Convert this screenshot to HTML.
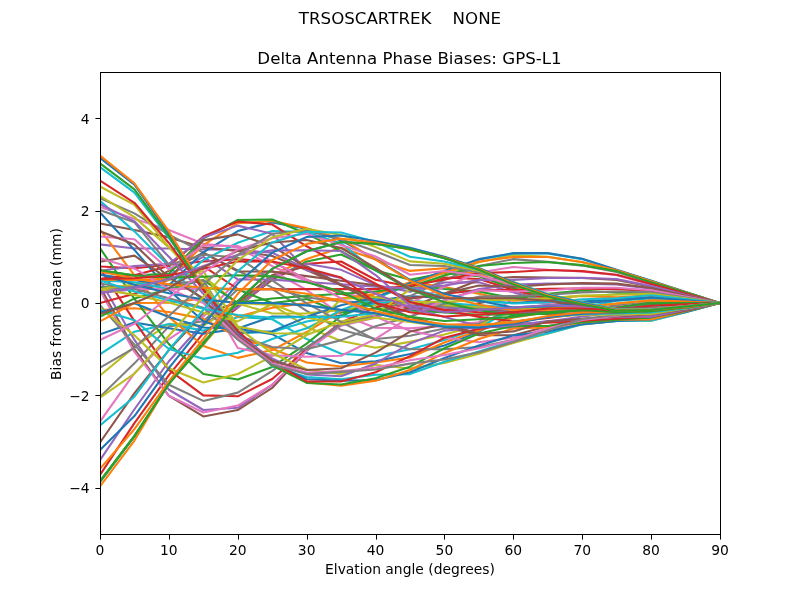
<!DOCTYPE html>
<html><head><meta charset="utf-8"><title>Delta Antenna Phase Biases</title>
<style>
html,body{margin:0;padding:0;background:#fff;}
body{width:800px;height:600px;overflow:hidden;}
svg{display:block;}
text{font-family:"DejaVu Sans","Liberation Sans",sans-serif;fill:#000;}
.l{fill:none;stroke-width:2.0833;stroke-linejoin:round;stroke-linecap:butt;}
</style></head><body>
<svg width="800" height="600" viewBox="0 0 800 600">
<rect width="800" height="600" fill="#fff"/>
<defs><clipPath id="c"><rect x="100" y="72" width="620" height="462"/></clipPath></defs>
<g clip-path="url(#c)">
<polyline class="l" stroke="#1f77b4" points="100.00,481.80 134.44,436.49 168.89,383.93 203.33,344.09 237.78,301.16 272.22,268.82 306.67,251.26 341.11,242.03 375.56,243.91 410.00,249.05 444.44,258.23 478.89,269.78 513.33,284.52 547.78,296.52 582.22,304.40 616.67,310.83 651.11,309.94 685.56,306.48 720.00,303.00"/>
<polyline class="l" stroke="#ff7f0e" points="100.00,486.40 134.44,440.57 168.89,383.08 203.33,344.54 237.78,304.93 272.22,275.32 306.67,259.02 341.11,247.65 375.56,259.48 410.00,270.89 444.44,268.33 478.89,274.33 513.33,286.36 547.78,297.44 582.22,304.87 616.67,311.29 651.11,310.21 685.56,306.69 720.00,303.00"/>
<polyline class="l" stroke="#2ca02c" points="100.00,480.94 134.44,435.53 168.89,383.56 203.33,342.21 237.78,305.36 272.22,279.86 306.67,261.43 341.11,254.56 375.56,270.19 410.00,279.86 444.44,273.04 478.89,276.24 513.33,288.20 547.78,298.37 582.22,305.33 616.67,311.75 651.11,309.95 685.56,306.47 720.00,303.00"/>
<polyline class="l" stroke="#d62728" points="100.00,474.81 134.44,423.14 168.89,375.04 203.33,333.10 237.78,307.54 272.22,279.03 306.67,263.69 341.11,261.49 375.56,279.79 410.00,286.72 444.44,277.57 478.89,278.94 513.33,290.04 547.78,299.30 582.22,305.79 616.67,312.21 651.11,309.83 685.56,306.27 720.00,303.00"/>
<polyline class="l" stroke="#9467bd" points="100.00,460.09 134.44,409.25 168.89,361.24 203.33,322.93 237.78,307.52 272.22,277.65 306.67,263.72 341.11,269.83 375.56,284.90 410.00,291.64 444.44,282.47 478.89,282.36 513.33,292.37 547.78,300.67 582.22,306.04 616.67,312.18 651.11,308.58 685.56,305.78 720.00,303.00"/>
<polyline class="l" stroke="#8c564b" points="100.00,442.51 134.44,393.05 168.89,350.08 203.33,313.37 237.78,302.64 272.22,275.25 306.67,266.27 341.11,284.59 375.56,298.52 410.00,307.67 444.44,312.04 478.89,303.13 513.33,296.35 547.78,301.37 582.22,306.87 616.67,310.23 651.11,308.54 685.56,305.72 720.00,303.00"/>
<polyline class="l" stroke="#e377c2" points="100.00,421.67 134.44,373.13 168.89,339.09 203.33,316.69 237.78,280.23 272.22,270.88 306.67,289.98 341.11,314.84 375.56,327.76 410.00,328.33 444.44,326.10 478.89,322.16 513.33,298.62 547.78,303.85 582.22,307.60 616.67,310.29 651.11,307.98 685.56,305.38 720.00,303.00"/>
<polyline class="l" stroke="#7f7f7f" points="100.00,396.83 134.44,363.36 168.89,326.36 203.33,321.24 237.78,289.21 272.22,289.08 306.67,310.81 341.11,329.81 375.56,339.06 410.00,335.83 444.44,328.51 478.89,323.77 513.33,308.58 547.78,305.42 582.22,307.65 616.67,312.15 651.11,306.75 685.56,304.84 720.00,303.00"/>
<polyline class="l" stroke="#bcbd22" points="100.00,375.51 134.44,346.87 168.89,323.90 203.33,325.90 237.78,303.10 272.22,304.89 306.67,326.95 341.11,340.93 375.56,347.80 410.00,341.85 444.44,334.41 478.89,325.15 513.33,310.91 547.78,307.60 582.22,309.00 616.67,310.35 651.11,307.18 685.56,304.64 720.00,303.00"/>
<polyline class="l" stroke="#17becf" points="100.00,354.27 134.44,331.73 168.89,323.95 203.33,330.63 237.78,316.93 272.22,319.23 306.67,339.05 341.11,353.79 375.56,356.12 410.00,349.20 444.44,340.00 478.89,328.34 513.33,307.83 547.78,309.87 582.22,310.64 616.67,310.43 651.11,306.41 685.56,304.21 720.00,303.00"/>
<polyline class="l" stroke="#1f77b4" points="100.00,334.34 134.44,322.44 168.89,328.27 203.33,333.82 237.78,328.62 272.22,334.20 306.67,353.06 341.11,363.20 375.56,361.38 410.00,354.01 444.44,345.52 478.89,331.64 513.33,315.01 547.78,310.96 582.22,311.32 616.67,312.16 651.11,304.46 685.56,303.68 720.00,303.00"/>
<polyline class="l" stroke="#ff7f0e" points="100.00,309.93 134.44,308.24 168.89,312.01 203.33,318.88 237.78,337.17 272.22,348.82 306.67,362.41 341.11,366.49 375.56,362.57 410.00,357.45 444.44,342.52 478.89,330.56 513.33,317.49 547.78,312.37 582.22,311.68 616.67,310.16 651.11,305.26 685.56,303.31 720.00,303.00"/>
<polyline class="l" stroke="#2ca02c" points="100.00,286.85 134.44,288.77 168.89,288.53 203.33,288.58 237.78,289.46 272.22,302.99 306.67,299.03 341.11,312.51 375.56,308.19 410.00,310.38 444.44,312.52 478.89,314.68 513.33,314.57 547.78,313.18 582.22,312.89 616.67,309.52 651.11,304.42 685.56,302.90 720.00,303.00"/>
<polyline class="l" stroke="#d62728" points="100.00,266.49 134.44,268.33 168.89,264.70 203.33,261.47 237.78,259.15 272.22,261.64 306.67,279.73 341.11,293.67 375.56,302.83 410.00,307.48 444.44,309.85 478.89,312.19 513.33,313.16 547.78,313.62 582.22,314.50 616.67,309.90 651.11,302.15 685.56,302.52 720.00,303.00"/>
<polyline class="l" stroke="#9467bd" points="100.00,244.34 134.44,248.45 168.89,248.49 203.33,249.42 237.78,249.82 272.22,252.70 306.67,268.72 341.11,284.54 375.56,298.37 410.00,305.29 444.44,307.62 478.89,309.94 513.33,312.23 547.78,312.27 582.22,312.71 616.67,308.60 651.11,303.07 685.56,302.05 720.00,303.00"/>
<polyline class="l" stroke="#8c564b" points="100.00,223.53 134.44,230.03 168.89,237.39 203.33,247.44 237.78,250.87 272.22,255.96 306.67,270.10 341.11,285.32 375.56,297.46 410.00,303.04 444.44,305.35 478.89,308.54 513.33,311.30 547.78,311.84 582.22,312.62 616.67,307.16 651.11,302.33 685.56,301.76 720.00,303.00"/>
<polyline class="l" stroke="#e377c2" points="100.00,206.92 134.44,218.89 168.89,230.08 203.33,243.83 237.78,247.35 272.22,266.19 306.67,281.26 341.11,292.30 375.56,300.67 410.00,305.28 444.44,306.68 478.89,307.64 513.33,309.92 547.78,310.00 582.22,314.43 616.67,305.35 651.11,300.27 685.56,301.60 720.00,303.00"/>
<polyline class="l" stroke="#7f7f7f" points="100.00,198.11 134.44,213.41 168.89,234.60 203.33,252.70 237.78,270.53 272.22,287.65 306.67,297.54 341.11,301.40 375.56,303.03 410.00,305.30 444.44,306.69 478.89,307.62 513.33,309.90 547.78,309.81 582.22,310.21 616.67,304.93 651.11,300.91 685.56,301.17 720.00,303.00"/>
<polyline class="l" stroke="#bcbd22" points="100.00,195.81 134.44,217.13 168.89,247.53 203.33,276.56 237.78,303.48 272.22,313.44 306.67,313.34 341.11,309.97 375.56,305.28 410.00,303.03 444.44,305.30 478.89,306.72 513.33,308.55 547.78,307.65 582.22,307.92 616.67,303.43 651.11,300.41 685.56,300.93 720.00,303.00"/>
<polyline class="l" stroke="#17becf" points="100.00,200.89 134.44,231.38 168.89,266.05 203.33,301.30 237.78,333.11 272.22,331.95 306.67,321.41 341.11,315.86 375.56,303.08 410.00,300.70 444.44,303.00 478.89,305.31 513.33,307.56 547.78,305.33 582.22,307.52 616.67,300.73 651.11,298.40 685.56,300.68 720.00,303.00"/>
<polyline class="l" stroke="#1f77b4" points="100.00,212.46 134.44,249.93 168.89,289.95 203.33,321.29 237.78,332.86 272.22,331.33 306.67,317.15 341.11,315.79 375.56,300.68 410.00,295.97 444.44,298.28 478.89,300.68 513.33,303.00 547.78,300.75 582.22,301.64 616.67,299.23 651.11,297.01 685.56,299.99 720.00,303.00"/>
<polyline class="l" stroke="#ff7f0e" points="100.00,229.54 134.44,275.26 168.89,316.85 203.33,345.99 237.78,357.86 272.22,350.07 306.67,332.04 341.11,310.94 375.56,293.82 410.00,282.36 444.44,286.91 478.89,293.81 513.33,300.66 547.78,298.37 582.22,296.08 616.67,297.40 651.11,295.17 685.56,299.06 720.00,303.00"/>
<polyline class="l" stroke="#2ca02c" points="100.00,248.07 134.44,298.86 168.89,344.12 203.33,373.95 237.78,379.50 272.22,366.98 306.67,343.62 341.11,315.97 375.56,298.34 410.00,284.62 444.44,289.05 478.89,291.48 513.33,298.28 547.78,293.78 582.22,290.58 616.67,292.82 651.11,292.87 685.56,297.91 720.00,303.00"/>
<polyline class="l" stroke="#d62728" points="100.00,268.31 134.44,321.06 168.89,369.96 203.33,395.39 237.78,396.33 272.22,378.96 306.67,349.21 341.11,322.38 375.56,307.61 410.00,298.38 444.44,293.80 478.89,290.11 513.33,290.09 547.78,288.69 582.22,288.64 616.67,289.13 651.11,291.00 685.56,296.98 720.00,303.00"/>
<polyline class="l" stroke="#9467bd" points="100.00,279.93 134.44,339.95 168.89,389.75 203.33,410.01 237.78,407.83 272.22,384.78 306.67,350.60 341.11,322.51 375.56,315.86 410.00,309.84 444.44,300.58 478.89,289.10 513.33,284.51 547.78,283.59 582.22,283.60 616.67,284.53 651.11,288.69 685.56,295.84 720.00,303.00"/>
<polyline class="l" stroke="#8c564b" points="100.00,286.83 134.44,349.21 168.89,395.88 203.33,416.47 237.78,410.03 272.22,387.96 306.67,350.64 341.11,323.86 375.56,316.85 410.00,307.64 444.44,293.79 478.89,279.97 513.33,276.97 547.78,277.57 582.22,278.04 616.67,279.91 651.11,286.82 685.56,294.91 720.00,303.00"/>
<polyline class="l" stroke="#e377c2" points="100.00,290.69 134.44,351.92 168.89,395.80 203.33,412.49 237.78,405.56 272.22,384.68 306.67,350.62 341.11,325.69 375.56,317.72 410.00,303.00 444.44,286.82 478.89,272.52 513.33,266.99 547.78,269.71 582.22,271.58 616.67,275.30 651.11,284.51 685.56,293.76 720.00,303.00"/>
<polyline class="l" stroke="#7f7f7f" points="100.00,305.20 134.44,344.67 168.89,384.73 203.33,400.91 237.78,392.63 272.22,370.97 306.67,347.26 341.11,324.59 375.56,316.81 410.00,296.11 444.44,279.90 478.89,266.06 513.33,259.14 547.78,261.87 582.22,265.60 616.67,272.06 651.11,282.67 685.56,292.84 720.00,303.00"/>
<polyline class="l" stroke="#bcbd22" points="100.00,307.65 134.44,335.37 168.89,368.27 203.33,382.44 237.78,374.03 272.22,356.13 306.67,334.99 341.11,321.46 375.56,314.31 410.00,289.21 444.44,275.23 478.89,262.34 513.33,254.97 547.78,256.79 582.22,262.32 616.67,270.67 651.11,281.73 685.56,292.37 720.00,303.00"/>
<polyline class="l" stroke="#17becf" points="100.00,309.87 134.44,320.16 168.89,348.98 203.33,358.85 237.78,352.84 272.22,339.01 306.67,328.32 341.11,310.06 375.56,298.50 410.00,283.19 444.44,271.13 478.89,259.58 513.33,253.55 547.78,253.56 582.22,259.13 616.67,270.18 651.11,280.83 685.56,291.91 720.00,303.00"/>
<polyline class="l" stroke="#1f77b4" points="100.00,312.28 134.44,303.23 168.89,316.98 203.33,327.52 237.78,328.46 272.22,316.60 306.67,316.76 341.11,305.32 375.56,297.35 410.00,283.15 444.44,271.10 478.89,259.13 513.33,253.12 547.78,253.12 582.22,258.68 616.67,269.73 651.11,280.82 685.56,291.91 720.00,303.00"/>
<polyline class="l" stroke="#ff7f0e" points="100.00,321.36 134.44,303.00 168.89,302.83 203.33,298.58 237.78,316.64 272.22,307.65 306.67,303.04 341.11,298.41 375.56,293.77 410.00,284.77 444.44,272.58 478.89,261.43 513.33,256.97 547.78,256.97 582.22,261.99 616.67,270.20 651.11,281.28 685.56,292.14 720.00,303.00"/>
<polyline class="l" stroke="#2ca02c" points="100.00,316.81 134.44,298.43 168.89,289.07 203.33,280.06 237.78,302.81 272.22,298.44 306.67,296.05 341.11,293.76 375.56,291.45 410.00,286.77 444.44,275.61 478.89,266.07 513.33,263.00 547.78,262.04 582.22,265.13 616.67,271.15 651.11,282.20 685.56,292.61 720.00,303.00"/>
<polyline class="l" stroke="#d62728" points="100.00,303.04 134.44,293.73 168.89,279.85 203.33,266.23 237.78,289.00 272.22,289.18 306.67,289.13 341.11,289.14 375.56,289.13 410.00,285.94 444.44,279.48 478.89,272.99 513.33,272.01 547.78,270.02 582.22,271.12 616.67,274.83 651.11,284.05 685.56,293.53 720.00,303.00"/>
<polyline class="l" stroke="#9467bd" points="100.00,292.88 134.44,289.11 168.89,275.12 203.33,256.90 237.78,279.44 272.22,279.66 306.67,281.93 341.11,284.27 375.56,286.66 410.00,288.49 444.44,285.46 478.89,279.92 513.33,279.89 547.78,278.05 582.22,277.80 616.67,279.00 651.11,286.13 685.56,294.68 720.00,303.00"/>
<polyline class="l" stroke="#8c564b" points="100.00,289.17 134.44,286.82 168.89,270.83 203.33,252.77 237.78,271.37 272.22,271.63 306.67,276.14 341.11,280.71 375.56,285.18 410.00,298.66 444.44,293.45 478.89,285.49 513.33,286.96 547.78,284.54 582.22,283.13 616.67,283.60 651.11,288.00 685.56,295.60 720.00,303.00"/>
<polyline class="l" stroke="#e377c2" points="100.00,289.13 134.44,289.09 168.89,288.80 203.33,289.05 237.78,347.99 272.22,355.31 306.67,356.70 341.11,355.76 375.56,338.92 410.00,316.78 444.44,299.97 478.89,290.13 513.33,291.43 547.78,290.51 582.22,287.77 616.67,287.75 651.11,290.26 685.56,296.53 720.00,303.00"/>
<polyline class="l" stroke="#7f7f7f" points="100.00,289.17 134.44,286.85 168.89,284.42 203.33,280.38 237.78,335.63 272.22,347.06 306.67,349.25 341.11,340.13 375.56,326.23 410.00,316.78 444.44,303.69 478.89,296.66 513.33,296.05 547.78,294.68 582.22,292.37 616.67,291.44 651.11,292.16 685.56,297.45 720.00,303.00"/>
<polyline class="l" stroke="#bcbd22" points="100.00,289.07 134.44,284.53 168.89,279.89 203.33,271.01 237.78,326.42 272.22,333.21 306.67,333.80 341.11,299.05 375.56,296.93 410.00,302.12 444.44,301.82 478.89,300.34 513.33,299.72 547.78,298.37 582.22,295.62 616.67,294.68 651.11,293.78 685.56,298.37 720.00,303.00"/>
<polyline class="l" stroke="#17becf" points="100.00,280.36 134.44,282.29 168.89,288.85 203.33,260.16 237.78,242.71 272.22,230.93 306.67,232.08 341.11,243.40 375.56,270.54 410.00,288.15 444.44,297.19 478.89,301.05 513.33,303.43 547.78,302.27 582.22,299.32 616.67,298.34 651.11,295.18 685.56,299.06 720.00,303.00"/>
<polyline class="l" stroke="#1f77b4" points="100.00,274.47 134.44,280.01 168.89,285.28 203.33,252.27 237.78,231.02 272.22,222.37 306.67,228.73 341.11,240.43 375.56,259.24 410.00,279.85 444.44,293.93 478.89,300.75 513.33,307.57 547.78,306.49 582.22,303.42 616.67,300.35 651.11,297.48 685.56,300.22 720.00,303.00"/>
<polyline class="l" stroke="#ff7f0e" points="100.00,279.71 134.44,279.91 168.89,278.85 203.33,245.08 237.78,223.12 272.22,220.94 306.67,228.14 341.11,238.90 375.56,259.59 410.00,280.69 444.44,295.91 478.89,304.84 513.33,310.21 547.78,309.94 582.22,306.93 616.67,303.52 651.11,300.25 685.56,301.60 720.00,303.00"/>
<polyline class="l" stroke="#2ca02c" points="100.00,270.43 134.44,275.39 168.89,273.70 203.33,238.44 237.78,219.99 272.22,219.43 306.67,233.67 341.11,251.22 375.56,270.21 410.00,289.58 444.44,302.21 478.89,310.28 513.33,314.74 547.78,313.79 582.22,309.95 616.67,307.58 651.11,303.02 685.56,302.99 720.00,303.00"/>
<polyline class="l" stroke="#d62728" points="100.00,278.82 134.44,275.23 168.89,265.93 203.33,236.53 237.78,221.50 272.22,224.50 306.67,246.27 341.11,265.13 375.56,283.59 410.00,301.97 444.44,309.93 478.89,316.88 513.33,321.44 547.78,318.04 582.22,313.61 616.67,309.90 651.11,305.79 685.56,304.38 720.00,303.00"/>
<polyline class="l" stroke="#9467bd" points="100.00,270.76 134.44,266.14 168.89,263.78 203.33,237.46 237.78,225.62 272.22,233.83 306.67,270.21 341.11,278.09 375.56,293.74 410.00,307.64 444.44,316.89 478.89,326.09 513.33,327.97 547.78,321.52 582.22,316.57 616.67,312.76 651.11,309.12 685.56,305.94 720.00,303.00"/>
<polyline class="l" stroke="#8c564b" points="100.00,261.72 134.44,255.63 168.89,279.28 203.33,240.38 237.78,234.38 272.22,246.18 306.67,267.54 341.11,285.03 375.56,303.00 410.00,316.85 444.44,326.13 478.89,335.31 513.33,335.28 547.78,326.15 582.22,319.19 616.67,315.93 651.11,312.23 685.56,307.62 720.00,303.00"/>
<polyline class="l" stroke="#e377c2" points="100.00,236.45 134.44,239.25 168.89,269.57 203.33,245.39 237.78,245.97 272.22,261.24 306.67,279.78 341.11,298.34 375.56,316.89 410.00,330.72 444.44,337.66 478.89,342.23 513.33,337.66 547.78,328.43 582.22,322.21 616.67,318.45 651.11,314.64 685.56,309.37 720.00,303.00"/>
<polyline class="l" stroke="#7f7f7f" points="100.00,210.09 134.44,222.36 168.89,264.69 203.33,254.82 237.78,257.48 272.22,280.42 306.67,303.42 341.11,321.82 375.56,339.98 410.00,349.22 444.44,349.28 478.89,346.93 513.33,339.98 547.78,330.74 582.22,324.03 616.67,320.36 651.11,317.47 685.56,311.10 720.00,303.00"/>
<polyline class="l" stroke="#bcbd22" points="100.00,186.52 134.44,204.95 168.89,247.16 203.33,284.34 237.78,327.70 272.22,353.31 306.67,369.47 341.11,374.15 375.56,365.05 410.00,368.48 444.44,362.97 478.89,353.76 513.33,342.99 547.78,333.47 582.22,324.27 616.67,321.03 651.11,320.73 685.56,312.25 720.00,303.00"/>
<polyline class="l" stroke="#17becf" points="100.00,167.16 134.44,192.64 168.89,237.85 203.33,286.92 237.78,330.96 272.22,366.55 306.67,377.10 341.11,379.33 375.56,374.70 410.00,374.09 444.44,361.74 478.89,351.50 513.33,340.90 547.78,333.47 582.22,324.28 616.67,321.04 651.11,320.75 685.56,312.26 720.00,303.00"/>
<polyline class="l" stroke="#1f77b4" points="100.00,157.87 134.44,184.58 168.89,233.68 203.33,289.07 237.78,333.04 272.22,363.16 306.67,379.24 341.11,380.71 375.56,380.13 410.00,372.31 444.44,357.99 478.89,345.50 513.33,335.36 547.78,331.59 582.22,324.34 616.67,320.93 651.11,319.36 685.56,312.06 720.00,303.00"/>
<polyline class="l" stroke="#ff7f0e" points="100.00,155.60 134.44,183.41 168.89,231.43 203.33,286.87 237.78,335.30 272.22,365.36 306.67,382.43 341.11,385.66 375.56,380.63 410.00,369.99 444.44,352.94 478.89,339.03 513.33,328.48 547.78,327.22 582.22,322.44 616.67,319.67 651.11,319.57 685.56,311.34 720.00,303.00"/>
<polyline class="l" stroke="#2ca02c" points="100.00,163.44 134.44,189.43 168.89,236.43 203.33,289.10 237.78,335.26 272.22,365.37 306.67,382.92 341.11,384.57 375.56,378.31 410.00,366.69 444.44,348.24 478.89,333.49 513.33,325.98 547.78,326.04 582.22,322.17 616.67,319.61 651.11,317.35 685.56,311.02 720.00,303.00"/>
<polyline class="l" stroke="#d62728" points="100.00,180.54 134.44,202.80 168.89,242.97 203.33,290.04 237.78,330.80 272.22,362.05 306.67,381.46 341.11,381.55 375.56,372.29 410.00,356.12 444.44,337.73 478.89,328.85 513.33,323.81 547.78,322.73 582.22,320.76 616.67,318.69 651.11,316.54 685.56,310.59 720.00,303.00"/>
<polyline class="l" stroke="#9467bd" points="100.00,204.10 134.44,221.31 168.89,256.81 203.33,293.81 237.78,335.22 272.22,358.51 306.67,374.42 341.11,376.17 375.56,363.42 410.00,343.55 444.44,330.61 478.89,327.46 513.33,325.17 547.78,321.11 582.22,319.16 616.67,316.90 651.11,316.80 685.56,309.94 720.00,303.00"/>
<polyline class="l" stroke="#8c564b" points="100.00,231.34 134.44,244.43 168.89,277.39 203.33,298.49 237.78,336.22 272.22,360.72 306.67,370.04 341.11,368.21 375.56,352.64 410.00,331.57 444.44,324.19 478.89,333.69 513.33,331.40 547.78,321.57 582.22,318.80 616.67,316.40 651.11,314.27 685.56,309.21 720.00,303.00"/>
<polyline class="l" stroke="#e377c2" points="100.00,258.22 134.44,268.43 168.89,289.08 203.33,303.11 237.78,337.68 272.22,363.23 306.67,372.46 341.11,371.05 375.56,367.67 410.00,360.16 444.44,355.02 478.89,348.28 513.33,339.97 547.78,328.42 582.22,319.95 616.67,315.66 651.11,312.71 685.56,308.55 720.00,303.00"/>
<polyline class="l" stroke="#7f7f7f" points="100.00,283.51 134.44,289.10 168.89,298.32 203.33,307.76 237.78,339.74 272.22,364.68 306.67,374.02 341.11,371.87 375.56,369.49 410.00,363.65 444.44,359.54 478.89,352.17 513.33,342.07 547.78,330.57 582.22,318.95 616.67,314.99 651.11,312.86 685.56,308.48 720.00,303.00"/>
<polyline class="l" stroke="#bcbd22" points="100.00,289.10 134.44,294.89 168.89,302.48 203.33,312.62 237.78,321.43 272.22,303.99 306.67,317.41 341.11,324.16 375.56,317.42 410.00,321.89 444.44,326.42 478.89,325.46 513.33,321.69 547.78,317.01 582.22,314.59 616.67,314.55 651.11,314.05 685.56,308.55 720.00,303.00"/>
<polyline class="l" stroke="#17becf" points="100.00,280.42 134.44,291.41 168.89,300.28 203.33,308.70 237.78,314.94 272.22,317.79 306.67,317.07 341.11,316.70 375.56,313.10 410.00,320.87 444.44,326.00 478.89,326.03 513.33,322.34 547.78,316.83 582.22,313.90 616.67,313.49 651.11,312.42 685.56,308.31 720.00,303.00"/>
<polyline class="l" stroke="#1f77b4" points="100.00,274.37 134.44,284.73 168.89,293.15 203.33,299.44 237.78,302.99 272.22,303.11 306.67,305.36 341.11,309.89 375.56,313.16 410.00,321.00 444.44,326.99 478.89,327.47 513.33,323.77 547.78,316.88 582.22,313.63 616.67,312.63 651.11,311.22 685.56,307.83 720.00,303.00"/>
<polyline class="l" stroke="#ff7f0e" points="100.00,271.55 134.44,278.57 168.89,284.40 203.33,287.82 237.78,289.14 272.22,289.17 306.67,293.76 341.11,300.73 375.56,311.31 410.00,319.18 444.44,324.26 478.89,325.16 513.33,322.37 547.78,315.93 582.22,312.49 616.67,312.32 651.11,311.05 685.56,307.50 720.00,303.00"/>
<polyline class="l" stroke="#2ca02c" points="100.00,270.25 134.44,275.53 168.89,277.58 203.33,276.75 237.78,275.26 272.22,276.19 306.67,282.20 341.11,291.50 375.56,308.56 410.00,316.87 444.44,321.00 478.89,319.21 513.33,316.87 547.78,312.25 582.22,309.96 616.67,312.21 651.11,311.29 685.56,307.16 720.00,303.00"/>
<polyline class="l" stroke="#d62728" points="100.00,278.96 134.44,278.31 168.89,275.29 203.33,268.81 237.78,261.48 272.22,261.45 306.67,268.27 341.11,277.53 375.56,302.71 410.00,312.28 444.44,316.42 478.89,314.58 513.33,312.24 547.78,308.56 582.22,308.36 616.67,310.03 651.11,309.77 685.56,306.87 720.00,303.00"/>
<polyline class="l" stroke="#9467bd" points="100.00,292.86 134.44,287.49 168.89,279.02 203.33,266.11 237.78,254.88 272.22,250.37 306.67,250.26 341.11,251.07 375.56,275.07 410.00,305.17 444.44,312.23 478.89,309.94 513.33,307.60 547.78,305.31 582.22,306.57 616.67,308.43 651.11,308.60 685.56,306.47 720.00,303.00"/>
<polyline class="l" stroke="#8c564b" points="100.00,314.10 134.44,303.00 168.89,288.15 203.33,267.47 237.78,250.87 272.22,242.51 306.67,239.93 341.11,247.98 375.56,268.00 410.00,289.13 444.44,298.24 478.89,298.28 513.33,298.33 547.78,300.69 582.22,304.84 616.67,308.16 651.11,308.44 685.56,306.19 720.00,303.00"/>
<polyline class="l" stroke="#e377c2" points="100.00,339.97 134.44,323.75 168.89,297.53 203.33,272.52 237.78,249.48 272.22,238.25 306.67,233.75 341.11,244.95 375.56,256.46 410.00,274.71 444.44,270.92 478.89,275.44 513.33,284.61 547.78,296.07 582.22,303.03 616.67,308.98 651.11,309.00 685.56,306.01 720.00,303.00"/>
<polyline class="l" stroke="#7f7f7f" points="100.00,367.72 134.44,347.78 168.89,315.96 203.33,284.49 237.78,254.90 272.22,233.78 306.67,230.64 341.11,239.26 375.56,251.27 410.00,265.08 444.44,266.02 478.89,272.44 513.33,282.20 547.78,294.65 582.22,302.55 616.67,308.99 651.11,309.27 685.56,306.30 720.00,303.00"/>
<polyline class="l" stroke="#bcbd22" points="100.00,397.72 134.44,373.62 168.89,335.76 203.33,296.97 237.78,260.09 272.22,237.36 306.67,228.80 341.11,235.06 375.56,247.10 410.00,261.35 444.44,263.76 478.89,270.67 513.33,281.98 547.78,293.98 582.22,302.23 616.67,308.99 651.11,309.47 685.56,306.25 720.00,303.00"/>
<polyline class="l" stroke="#17becf" points="100.00,425.47 134.44,396.70 168.89,349.79 203.33,309.92 237.78,271.12 272.22,242.54 306.67,231.84 341.11,232.53 375.56,242.06 410.00,256.68 444.44,261.41 478.89,269.73 513.33,282.21 547.78,294.21 582.22,302.55 616.67,309.45 651.11,309.72 685.56,306.58 720.00,303.00"/>
<polyline class="l" stroke="#1f77b4" points="100.00,449.94 134.44,416.11 168.89,368.17 203.33,325.16 237.78,283.59 272.22,252.62 306.67,236.95 341.11,235.53 375.56,241.08 410.00,247.66 444.44,256.84 478.89,267.93 513.33,282.66 547.78,294.68 582.22,303.02 616.67,309.91 651.11,309.93 685.56,306.48 720.00,303.00"/>
<polyline class="l" stroke="#ff7f0e" points="100.00,468.88 134.44,429.08 168.89,381.09 203.33,338.95 237.78,293.78 272.22,260.08 306.67,243.85 341.11,238.78 375.56,242.42 410.00,249.73 444.44,257.68 478.89,268.81 513.33,283.58 547.78,295.60 582.22,303.93 616.67,310.37 651.11,310.02 685.56,306.66 720.00,303.00"/>
<polyline class="l" stroke="#2ca02c" points="100.00,481.80 134.44,436.49 168.89,383.93 203.33,344.09 237.78,301.16 272.22,268.82 306.67,251.26 341.11,242.03 375.56,243.91 410.00,249.05 444.44,258.23 478.89,269.78 513.33,284.52 547.78,296.52 582.22,304.40 616.67,310.83 651.11,309.94 685.56,306.48 720.00,303.00"/>
</g>
<g stroke="#000" stroke-width="1" fill="none">
<line x1="100.5" y1="534.5" x2="100.5" y2="539.6"/>
<line x1="169.5" y1="534.5" x2="169.5" y2="539.6"/>
<line x1="238.5" y1="534.5" x2="238.5" y2="539.6"/>
<line x1="307.5" y1="534.5" x2="307.5" y2="539.6"/>
<line x1="376.5" y1="534.5" x2="376.5" y2="539.6"/>
<line x1="444.5" y1="534.5" x2="444.5" y2="539.6"/>
<line x1="513.5" y1="534.5" x2="513.5" y2="539.6"/>
<line x1="582.5" y1="534.5" x2="582.5" y2="539.6"/>
<line x1="651.5" y1="534.5" x2="651.5" y2="539.6"/>
<line x1="720.5" y1="534.5" x2="720.5" y2="539.6"/>
<line x1="100.5" y1="488.5" x2="95.4" y2="488.5"/>
<line x1="100.5" y1="395.5" x2="95.4" y2="395.5"/>
<line x1="100.5" y1="303.5" x2="95.4" y2="303.5"/>
<line x1="100.5" y1="211.5" x2="95.4" y2="211.5"/>
<line x1="100.5" y1="118.5" x2="95.4" y2="118.5"/>
<rect x="100.5" y="72.5" width="620" height="462"/>
</g>
<g opacity="0.999">
<text x="100.00" y="554.6" font-size="13.89" text-anchor="middle">0</text>
<text x="168.89" y="554.6" font-size="13.89" text-anchor="middle">10</text>
<text x="237.78" y="554.6" font-size="13.89" text-anchor="middle">20</text>
<text x="306.67" y="554.6" font-size="13.89" text-anchor="middle">30</text>
<text x="375.56" y="554.6" font-size="13.89" text-anchor="middle">40</text>
<text x="444.44" y="554.6" font-size="13.89" text-anchor="middle">50</text>
<text x="513.33" y="554.6" font-size="13.89" text-anchor="middle">60</text>
<text x="582.22" y="554.6" font-size="13.89" text-anchor="middle">70</text>
<text x="651.11" y="554.6" font-size="13.89" text-anchor="middle">80</text>
<text x="720.00" y="554.6" font-size="13.89" text-anchor="middle">90</text>
<text x="89.6" y="493.10" font-size="13.89" text-anchor="end">−4</text>
<text x="89.6" y="400.70" font-size="13.89" text-anchor="end">−2</text>
<text x="89.6" y="308.30" font-size="13.89" text-anchor="end">0</text>
<text x="89.6" y="215.90" font-size="13.89" text-anchor="end">2</text>
<text x="89.6" y="123.50" font-size="13.89" text-anchor="end">4</text>
<text x="410" y="573.8" font-size="13.89" text-anchor="middle">Elvation angle (degrees)</text>
<text transform="translate(60.5,304) rotate(-90)" font-size="13.89" text-anchor="middle">Bias from mean (mm)</text>
<text x="409.5" y="63.6" font-size="16.67" text-anchor="middle">Delta Antenna Phase Biases: GPS-L1</text>
<text x="400" y="23.5" font-size="16.67" text-anchor="middle" xml:space="preserve" style="white-space:pre">TRSOSCARTREK    NONE</text>
</g>
</svg>
</body></html>
